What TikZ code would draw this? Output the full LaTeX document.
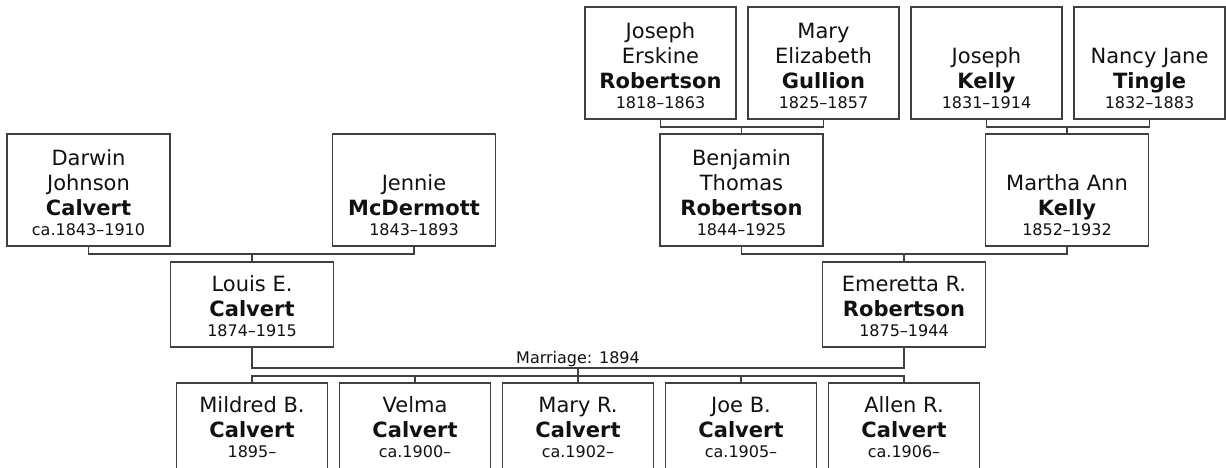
\documentclass[tikz,border=0pt]{standalone}
\usepackage{fontspec}
\setmainfont{DejaVu Sans}
\usetikzlibrary{positioning}
\definecolor{treeline}{RGB}{64,64,64}
\definecolor{inkblack}{RGB}{17,17,17}
\newlength{\whogap}
\setlength{\whogap}{10pt}
\newcommand{\namefont}{\fontsize{21}{25}\selectfont}
\newcommand{\yearfont}{\fontsize{16}{20.5}\selectfont}
\newcommand{\wedfont}{\fontsize{16}{19}\selectfont}
\newcommand{\who}[3][112pt]{\parbox[b][#1][b]{150pt}{\centering\namefont #2\par\yearfont #3\par\vspace{\whogap}}}

\begin{document}
\begin{tikzpicture}[
    x=1pt, y=-1pt,
    node distance=12pt,
    every node/.style={align=center, text=inkblack},
    person/.style={rectangle, draw=treeline, line width=1.3pt, inner sep=0pt, outer sep=0pt, minimum width=163pt},
    elder/.style={person, minimum width=151pt},
    kid/.style={person, minimum width=151pt},
    link/.style={draw=treeline, line width=1.3pt}
]
\useasboundingbox (0,0) rectangle (1226,468);

% Great-grandparents
\node[elder] (joseph_r) at (660.5,63) {\who{Joseph\\Erskine\\\textbf{Robertson}}{1818--1863}};
\node[elder, right=of joseph_r] (mary_g) {\who{Mary\\Elizabeth\\\textbf{Gullion}}{1825--1857}};
\node[elder, right=of mary_g] (joseph_k) {\who{Joseph\\\textbf{Kelly}}{1831--1914}};
\node[elder, right=of joseph_k] (nancy) {\who{Nancy Jane\\\textbf{Tingle}}{1832--1883}};

% Grandparents
\node[person] (darwin) at (88.5,190) {\who{Darwin\\Johnson\\\textbf{Calvert}}{ca.1843--1910}};
\node[person] (jennie) at (414,190) {\who{Jennie\\\textbf{McDermott}}{1843--1893}};
\node[person] (benjamin) at (741.5,190) {\who{Benjamin\\Thomas\\\textbf{Robertson}}{1844--1925}};
\node[person] (martha) at (1067,190) {\who{Martha Ann\\\textbf{Kelly}}{1852--1932}};

% Parents
\node[person] (louis) at (252,304.5) {\who[85pt]{Louis E.\\\textbf{Calvert}}{1874--1915}};
\node[person] (emeretta) at (904,304.5) {\who[85pt]{Emeretta R.\\\textbf{Robertson}}{1875--1944}};

% Children
\setlength{\whogap}{13pt}
\node[kid] (mildred) at (252,427) {\who[88pt]{Mildred B.\\\textbf{Calvert}}{1895--}};
\node[kid, right=of mildred] (velma) {\who[88pt]{Velma\\\textbf{Calvert}}{ca.1900--}};
\node[kid, right=of velma] (mary_r) {\who[88pt]{Mary R.\\\textbf{Calvert}}{ca.1902--}};
\node[kid, right=of mary_r] (joe) {\who[88pt]{Joe B.\\\textbf{Calvert}}{ca.1905--}};
\node[kid, right=of joe] (allen) {\who[88pt]{Allen R.\\\textbf{Calvert}}{ca.1906--}};

% Families
\draw[link] (joseph_r.south) -- ++(0,8) coordinate (robertson_bar) -| (mary_g.south);
\draw[link] (benjamin.north) -- (benjamin.north |- robertson_bar);
\draw[link] (joseph_k.south) -- ++(0,8) coordinate (kelly_bar) -| (nancy.south);
\draw[link] (martha.north) -- (martha.north |- kelly_bar);
\draw[link] (darwin.south) -- ++(0,8) coordinate (calvert_bar) -| (jennie.south);
\draw[link] (louis.north) -- (louis.north |- calvert_bar);
\draw[link] (benjamin.south) -- ++(0,8) coordinate (emeretta_bar) -| (martha.south);
\draw[link] (emeretta.north) -- (emeretta.north |- emeretta_bar);

% Marriage
\draw[link] (louis.south) -- ++(0,21) coordinate (wed_bar) -| node[pos=0.25, anchor=base, yshift=5pt, font=\wedfont] (wed_label) {Marriage: 1894} (emeretta.south);
\draw[link] (mary_r.north) -- (mary_r.north |- wed_bar);
\draw[link] (mildred.north) -- ++(0,-7) -| (allen.north);
\foreach \sib in {velma, joe}
    \draw[link] (\sib.north) -- ++(0,-7);

\end{tikzpicture}
\end{document}
